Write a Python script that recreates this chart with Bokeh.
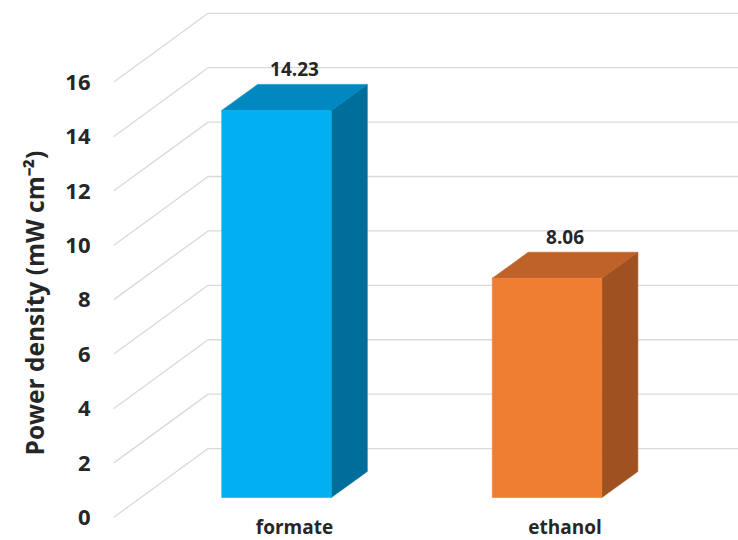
from bokeh.plotting import figure
from bokeh.models import Range1d, LinearAxis, FixedTicker, ColumnDataSource, Title
from bokeh.embed import file_html
from bokeh.resources import INLINE
from bokeh.core.properties import value

# --- data -------------------------------------------------------------
categories = ["formate", "ethanol"]
power_density = [14.23, 8.06]          # mW cm^-2
value_labels = ["14.23", "8.06"]
y_ticks = [0, 2, 4, 6, 8, 10, 12, 14, 16]
y_title = "Power density (mW cm\u207b\u00b2)"

front_colors = ["#00B0F0", "#ED7D31"]
top_colors = ["#0088C0", "#BF6229"]
side_colors = ["#006E9B", "#9D5220"]

# --- oblique 3D layout (x in category units, y in value units) ---------
X_MIN, X_MAX = -0.669, 1.641
Y_MIN, Y_MAX = -1.58, 18.27
BAR_W = 0.405                 # width of a bar's front face
DEPTH_X, DEPTH_Y = 0.133, 0.956   # depth of a bar
WALL_X, WALL_Y = 0.2496, 1.80     # back wall, relative to bar fronts
FRONT_X, FRONT_Y = -0.10, -0.735  # plane of the value axis labels

FONT = "Open Sans"
TEXT = "#262626"
GRID = "#D9D9D9"

cat_x = list(range(len(categories)))

p = figure(width=738, height=540, output_backend="svg", toolbar_location=None,
           x_range=Range1d(X_MIN, X_MAX), y_range=Range1d(Y_MIN, Y_MAX),
           x_axis_location=None, y_axis_location=None,
           min_border_left=113, min_border_right=0,
           min_border_top=0, min_border_bottom=0)
p.grid.grid_line_color = None
p.outline_line_color = None
p.background_fill_color = "white"
p.border_fill_color = "white"

# value axis drawn on the front plane
p.extra_y_ranges = {"front": Range1d(Y_MIN - FRONT_Y, Y_MAX - FRONT_Y)}
yaxis = LinearAxis(y_range_name="front", ticker=FixedTicker(ticks=y_ticks))
yaxis.axis_line_color = None
yaxis.major_tick_line_color = None
yaxis.minor_tick_line_color = None
yaxis.major_tick_out = 0
yaxis.major_tick_in = 0
yaxis.major_label_standoff = 23
yaxis.major_label_text_font = FONT
yaxis.major_label_text_font_size = "22px"
yaxis.major_label_text_font_style = "bold"
yaxis.major_label_text_color = TEXT
p.add_layout(yaxis, "left")

# axis title along the left edge
ytitle = Title(text=y_title, align="left", offset=85, vertical_align="top",
               text_font=FONT, text_font_size="24.5px", text_font_style="bold",
               text_color=TEXT, standoff=20)
p.add_layout(ytitle, "left")

# gridlines: diagonal floor-side strokes and horizontal back-wall lines
wall_left = X_MIN + (WALL_X - FRONT_X)
p.segment(x0=[X_MIN] * len(y_ticks), y0=[t + FRONT_Y for t in y_ticks],
          x1=[wall_left] * len(y_ticks), y1=[t + WALL_Y for t in y_ticks],
          line_color=GRID, line_width=1.3)
p.segment(x0=[wall_left] * len(y_ticks), y0=[t + WALL_Y for t in y_ticks],
          x1=[X_MAX] * len(y_ticks), y1=[t + WALL_Y for t in y_ticks],
          line_color=GRID, line_width=1.3)

# 3D bars: front, top and side faces
front_xs, front_ys, top_xs, top_ys, side_xs, side_ys = [], [], [], [], [], []
for cx, v in zip(cat_x, power_density):
    xl = cx - BAR_W / 2 - DEPTH_X / 2
    xr = xl + BAR_W
    front_xs.append([xl, xr, xr, xl])
    front_ys.append([0, 0, v, v])
    top_xs.append([xl, xr, xr + DEPTH_X, xl + DEPTH_X])
    top_ys.append([v, v, v + DEPTH_Y, v + DEPTH_Y])
    side_xs.append([xr, xr + DEPTH_X, xr + DEPTH_X, xr])
    side_ys.append([0, DEPTH_Y, v + DEPTH_Y, v])

for xs, ys, cols in [(side_xs, side_ys, side_colors),
                     (top_xs, top_ys, top_colors),
                     (front_xs, front_ys, front_colors)]:
    src = ColumnDataSource(dict(xs=xs, ys=ys, c=cols))
    p.patches("xs", "ys", source=src, fill_color="c", line_color="c",
              line_width=0.6)

# value labels above the bars
p.text(x=cat_x, y=[v + DEPTH_Y for v in power_density], text=value_labels,
       text_align="center", text_baseline="alphabetic", y_offset=-15,
       text_font=value(FONT), text_font_size="19px", text_font_style="bold",
       text_color=TEXT)

# category labels under the floor
p.text(x=cat_x, y=[FRONT_Y] * len(categories), text=categories,
       text_align="center", text_baseline="alphabetic", y_offset=9,
       text_font=value(FONT), text_font_size="19px", text_font_style="bold",
       text_color=TEXT)

open("out.html", "w").write(file_html(p, INLINE))
